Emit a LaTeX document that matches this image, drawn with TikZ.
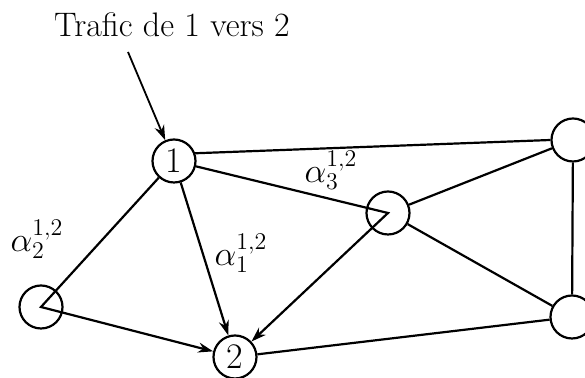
\documentclass[tikz,border=0pt]{standalone}
\usepackage{fontspec}
\usepackage{tikz}
\usetikzlibrary{arrows.meta}
\tikzset{
    % 节点样式
    station/.style={
        circle,
        draw,
        line width=1.1pt,
        inner sep=0pt,
        minimum size=21.5pt,
        font=\fontsize{18pt}{21pt}\selectfont
    },
    lien/.style={
        line width=1.1pt
    },
    fleche/.style={
        line width=1.1pt,
        -{Stealth[length=7.5pt, width=5pt]}
    },
    etiquette/.style={
        font=\fontsize{17pt}{20pt}\selectfont
    }
}
\begin{document}
\begin{tikzpicture}[x=0.5pt,y=-0.5pt]
    \clip (0,0) rectangle (585,378);

    % 节点
    \node[station] (n1) at (174,161) {1};
    \node[station] (n2) at (235,357) {2};
    \node[station] (g) at (41,307) {};
    \node[station] (m) at (388,213) {};
    \node[station] (tr) at (573,140) {};
    \node[station] (br) at (572,317) {};

    % 标题与箭头
    \node[etiquette] (titre) at (172,25) {Trafic de 1 vers 2};
    \coordinate (depart) at (128,52);
    \draw[fleche, line width=0.9pt] (depart) -- (n1);

    % 三条路径
    \draw[fleche] (n1) -- (n2);
    \draw[fleche] (n1) -- (g.center) -- (n2);
    \draw[fleche] (n1) -- (m.center) -- (n2);

    % 其余连线
    \draw[lien] (n1.20) -- (tr.180);
    \draw[lien] (m) -- (tr);
    \draw[lien] (m) -- (br);
    \draw[lien] (tr) -- (br);
    \draw[lien] (n2) -- (br);

    % 标注
    \node[etiquette] (a2) at (37,239) {$\alpha_2^{1,2}$};
    \node[etiquette] (a1) at (241,253) {$\alpha_1^{1,2}$};
    \node[etiquette] (a3) at (331,170) {$\alpha_3^{1,2}$};
\end{tikzpicture}
\end{document}
